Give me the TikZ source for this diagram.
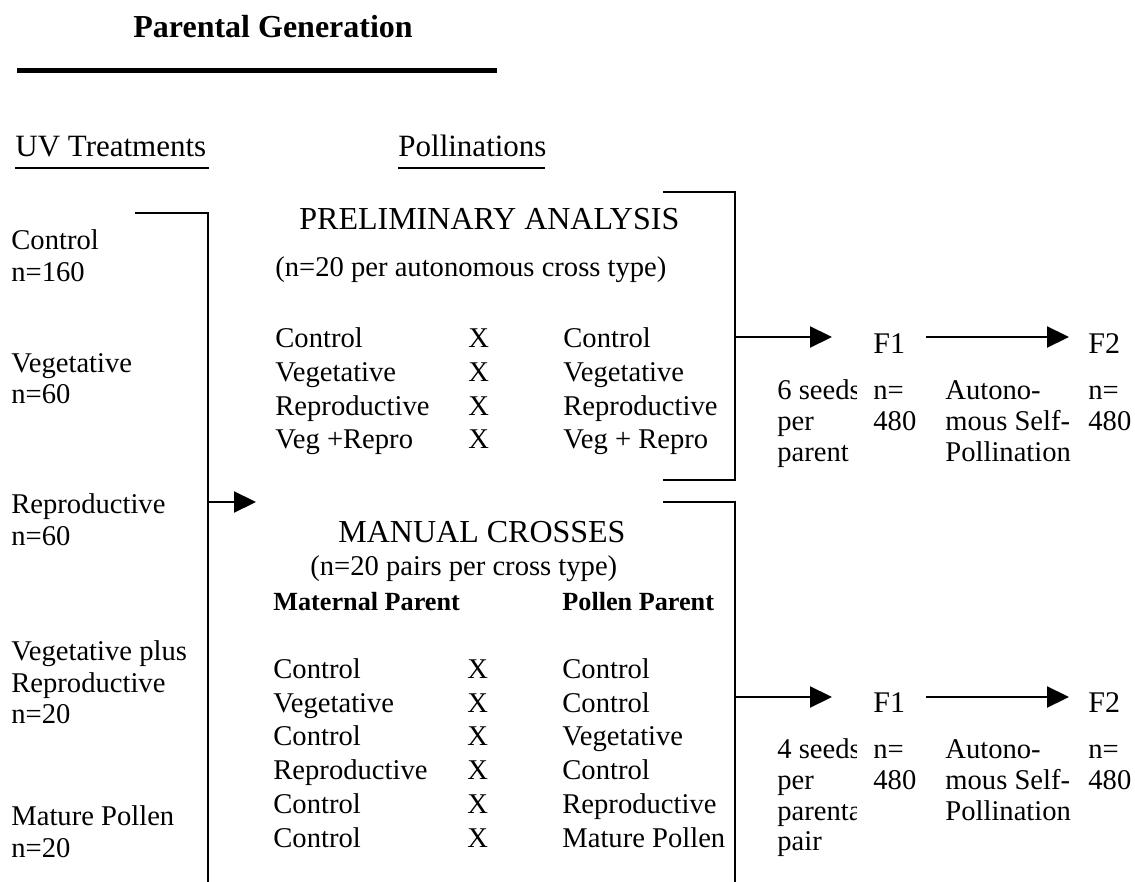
\documentclass[tikz,border=0pt]{standalone}
\usepackage{fontspec}
\setmainfont{Liberation Serif}
\usetikzlibrary{arrows.meta}
\begin{document}
\begin{tikzpicture}[x=0.5pt,y=-0.5pt,
  txt/.style={anchor=base west,inner sep=0pt,font=\fontsize{14.3}{17}\selectfont},
  head/.style={anchor=base west,inner sep=0pt,font=\fontsize{15.5}{18}\selectfont},
  big/.style={anchor=base west,inner sep=0pt,font=\fontsize{16}{19}\selectfont},
  colhead/.style={anchor=base west,inner sep=0pt,font=\fontsize{13.1}{16}\selectfont\bfseries},
  titlestyle/.style={anchor=base west,inner sep=0pt,font=\fontsize{16}{19}\selectfont\bfseries},
  gen/.style={anchor=base west,inner sep=0pt,font=\fontsize{15}{18}\selectfont},
  bracket/.style={line width=1.2pt},
  uline/.style={line width=1pt},
  arr/.style={line width=1.1pt,-{Triangle[length=11pt,width=10.5pt]}},
]
\useasboundingbox (0,0) rectangle (1135,882);

% title
\node[titlestyle] (title) at (133,38) {Parental Generation};
\coordinate (ruleL) at (17,71);
\coordinate (ruleR) at (497,71);
\draw[line width=2.5pt] (ruleL) -- (ruleR);

% headings
\node[head] (uv) at (15,157) {UV Treatments};
\coordinate (uvL) at (15,168);
\coordinate (uvR) at (209,168);
\draw[uline] (uvL) -- (uvR);
\node[head] (poll) at (398,157) {Pollinations};
\coordinate (polL) at (398,168);
\coordinate (polR) at (545,168);
\draw[uline] (polL) -- (polR);

% UV treatments
\node[txt] (c1) at (11,250) {Control};
\node[txt] (c2) at (11,282) {n=160};
\node[txt] (v1) at (11,372) {Vegetative};
\node[txt] (v2) at (11,403) {n=60};
\node[txt] (r1) at (11,513) {Reproductive};
\node[txt] (r2) at (11,545) {n=60};
\node[txt] (vr1) at (11,660) {Vegetative plus};
\node[txt] (vr2) at (11,692) {Reproductive};
\node[txt] (vr3) at (11,723) {n=20};
\node[txt] (mp1) at (11,825) {Mature Pollen};
\node[txt] (mp2) at (11,857) {n=20};

% left bracket
\coordinate (lbT) at (135,213);
\coordinate (lbC) at (208,213);
\coordinate (lbB) at (208,882);
\draw[bracket] (lbT) -- (lbC) -- (lbB);
\coordinate (lbA) at (208,502);
\coordinate (lbTip) at (256,502);
\draw[arr] (lbA) -- (lbTip);

% preliminary analysis
\node[big] (pa) at (299,230) {PRELIMINARY ANALYSIS};
\node[txt] (pan) at (275,277) {(n=20 per autonomous cross type)};
\foreach \y/\a/\b [count=\i] in {347/Control/Control,381/Vegetative/Vegetative,415/Reproductive/Reproductive,448/Veg +Repro/Veg + Repro}{
  \node[txt] (pl\i) at (275,\y) {\a};
  \node[txt] (px\i) at (468,\y) {X};
  \node[txt] (pr\i) at (563,\y) {\b};
}
\coordinate (pbT1) at (663,192);
\coordinate (pbT2) at (735,192);
\coordinate (pbB2) at (735,480);
\coordinate (pbB1) at (663,480);
\draw[bracket] (pbT1) -- (pbT2) -- (pbB2) -- (pbB1);
\coordinate (pbA) at (735,337);
\coordinate (pbTip) at (832,337);
\draw[arr] (pbA) -- (pbTip);

\node[gen] (pF1) at (873,353) {F1};
\node[gen] (pF2) at (1088,353) {F2};
\coordinate (pFa) at (926,337);
\coordinate (pFb) at (1069,337);
\draw[arr] (pFa) -- (pFb);
\begin{scope}
  \clip (770,360) rectangle (856,470);
  \node[txt] (ps1) at (777,399) {6 seeds};
  \node[txt] (ps2) at (777,430) {per};
  \node[txt] (ps3) at (777,461) {parent};
\end{scope}
\node[txt] (pn1) at (873,399) {n=};
\node[txt] (pn2) at (873,430) {480};
\node[txt] (pau1) at (945,399) {Autono-};
\node[txt] (pau2) at (945,430) {mous Self-};
\node[txt] (pau3) at (945,461) {Pollination};
\node[txt] (pm1) at (1088,399) {n=};
\node[txt] (pm2) at (1088,430) {480};

% manual crosses
\node[big] (mc) at (338,542) {MANUAL CROSSES};
\node[txt] (mcn) at (310,575) {(n=20 pairs per cross type)};
\node[colhead] (mat) at (273,610) {Maternal Parent};
\node[colhead] (pol) at (562,610) {Pollen Parent};
\foreach \y/\a/\b [count=\i] in {678/Control/Control,712/Vegetative/Control,745/Control/Vegetative,779/Reproductive/Control,813/Control/Reproductive,847/Control/Mature Pollen}{
  \node[txt] (ml\i) at (273,\y) {\a};
  \node[txt] (mx\i) at (467,\y) {X};
  \node[txt] (mr\i) at (562,\y) {\b};
}
\coordinate (mbT1) at (663,502);
\coordinate (mbT2) at (735,502);
\coordinate (mbB) at (735,882);
\draw[bracket] (mbT1) -- (mbT2) -- (mbB);
\coordinate (mbA) at (735,697);
\coordinate (mbTip) at (832,697);
\draw[arr] (mbA) -- (mbTip);

\node[gen] (mF1) at (873,712) {F1};
\node[gen] (mF2) at (1088,712) {F2};
\coordinate (mFa) at (926,697);
\coordinate (mFb) at (1069,697);
\draw[arr] (mFa) -- (mFb);
\begin{scope}
  \clip (770,720) rectangle (856,870);
  \node[txt] (ms1) at (777,758) {4 seeds};
  \node[txt] (ms2) at (777,789) {per};
  \node[txt] (ms3) at (777,820) {parental};
  \node[txt] (ms4) at (777,850) {pair};
\end{scope}
\node[txt] (mn1) at (873,758) {n=};
\node[txt] (mn2) at (873,789) {480};
\node[txt] (mau1) at (945,758) {Autono-};
\node[txt] (mau2) at (945,789) {mous Self-};
\node[txt] (mau3) at (945,820) {Pollination};
\node[txt] (mm1) at (1088,758) {n=};
\node[txt] (mm2) at (1088,789) {480};
\end{tikzpicture}
\end{document}
